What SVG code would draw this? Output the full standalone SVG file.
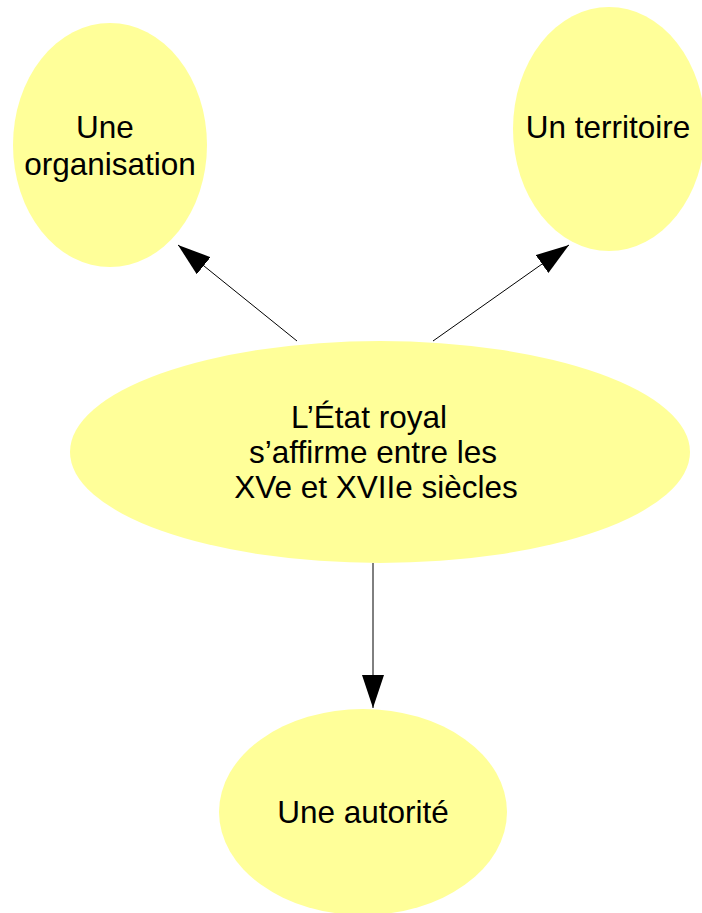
<svg xmlns="http://www.w3.org/2000/svg" width="702" height="913" viewBox="0 0 702 913">
<style>
.node{fill:#ffff99;stroke:none}
.lbl{font-family:"Liberation Sans",Arial,sans-serif;font-size:31.5px;fill:#000;text-anchor:middle}
.edge{stroke:#000;stroke-width:1;fill:none}
</style>
<defs>
<marker id="arr" markerUnits="userSpaceOnUse" markerWidth="34" markerHeight="24" refX="33" refY="11" orient="auto" viewBox="0 0 34 24">
<path d="M0,0 L33,11 L0,22 z" fill="#000"/>
</marker>
</defs>
<rect width="702" height="913" fill="#fff"/>
<g id="connectors">
<line class="edge" x1="297" y1="341" x2="178" y2="245" marker-end="url(#arr)"/>
<line class="edge" x1="433" y1="341" x2="569" y2="245" marker-end="url(#arr)"/>
<line class="edge" x1="373" y1="563" x2="373" y2="708" marker-end="url(#arr)"/>
</g>
<g id="organisation">
<ellipse class="node" cx="110" cy="145" rx="97" ry="122"/>
<text class="lbl" x="105" y="138">Une</text>
<text class="lbl" x="110" y="175">organisation</text>
</g>
<g id="territoire">
<ellipse class="node" cx="609" cy="129" rx="96" ry="122"/>
<text class="lbl" x="608" y="138">Un territoire</text>
</g>
<g id="etat">
<ellipse class="node" cx="380" cy="452" rx="310" ry="111"/>
<text class="lbl" x="369" y="428">L’État royal</text>
<text class="lbl" x="373" y="463">s’affirme entre les</text>
<text class="lbl" x="376" y="498">XVe et XVIIe siècles</text>
</g>
<g id="autorite">
<ellipse class="node" cx="363" cy="812" rx="144" ry="103"/>
<text class="lbl" x="363" y="823">Une autorité</text>
</g>
</svg>
